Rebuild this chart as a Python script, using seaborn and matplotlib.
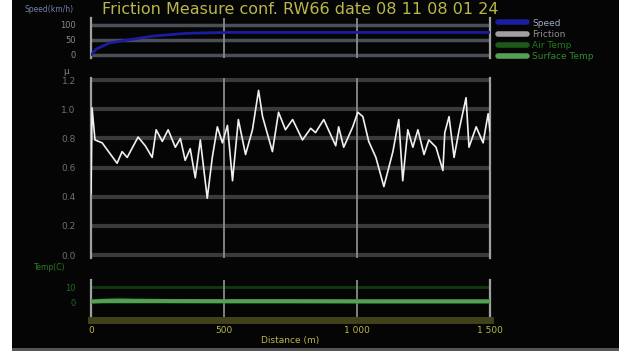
import numpy as np
import pandas as pd
import matplotlib
matplotlib.use("Agg")
import matplotlib.pyplot as plt
from matplotlib.lines import Line2D
from matplotlib.patches import Rectangle
import seaborn as sns

# ---------------- data ----------------
title_text = "Friction Measure conf. RW66 date 08 11 08 01 24"

fric_dist = [0, 4, 15, 42, 98, 117, 136, 177, 204, 230, 245, 268, 290, 317, 336, 354,
             373, 392, 411, 437, 456, 475, 494, 513, 532, 554, 581, 607, 630, 645, 682,
             705, 731, 758, 795, 826, 844, 875, 920, 931, 950, 984, 1003, 1022, 1044,
             1071, 1101, 1135, 1157, 1172, 1191, 1210, 1229, 1252, 1270, 1297, 1323,
             1330, 1346, 1365, 1384, 1410, 1421, 1448, 1474, 1493, 1500]
fric_mu = [0.42, 1.01, 0.79, 0.77, 0.63, 0.71, 0.67, 0.81, 0.75, 0.67, 0.86, 0.78, 0.86,
           0.74, 0.80, 0.65, 0.73, 0.53, 0.79, 0.39, 0.67, 0.88, 0.77, 0.89, 0.51, 0.93,
           0.69, 0.86, 1.13, 0.95, 0.71, 0.98, 0.86, 0.93, 0.79, 0.87, 0.84, 0.93, 0.75,
           0.88, 0.74, 0.88, 0.98, 0.95, 0.78, 0.67, 0.47, 0.71, 0.93, 0.51, 0.86, 0.74,
           0.86, 0.69, 0.79, 0.74, 0.58, 0.84, 0.95, 0.67, 0.86, 1.08, 0.74, 0.88, 0.77,
           0.97, 0.85]

speed_dist = [0, 20, 70, 160, 235, 360, 510, 700, 1000, 1250, 1500]
speed_kmh = [0, 20, 40, 53, 63, 72, 75, 75, 75, 75, 75]

surf_dist = [0, 50, 250, 500, 750, 1000, 1250, 1500]
surf_temp = [0.5, 0.8, 0.8, 0.7, 0.7, 0.6, 0.6, 0.6]
air_dist = [0, 60, 100, 160, 300, 600, 900, 1100, 1500]
air_temp = [0.5, 1.2, 1.6, 1.2, 0.8, 0.7, 0.7, 0.6, 0.6]

x_ticks = [0, 500, 1000, 1500]
x_ticklabels = ["0", "500", "1 000", "1 500"]
mu_ticks = [0.0, 0.2, 0.4, 0.6, 0.8, 1.0, 1.2]
mu_ticklabels = ["0.0", "0.2", "0.4", "0.6", "0.8", "1.0", "1.2"]
speed_ticks = [0, 50, 100]
temp_ticks = [0, 10]

legend_labels = ["Speed", "Friction", "Air Temp", "Surface Temp"]

# ---------------- style ----------------
sns.set_style("dark", {"axes.facecolor": "#050505", "figure.facecolor": "#050505"})
plt.rcParams['font.family'] = ['DejaVu Sans']

C_SPEED = "#1c1ca0"
C_FRIC = "#f0f0f0"
C_AIR = "#1a5a1a"
C_SURF = "#55a055"
C_YEL = "#b8b84a"
C_GRID = "#3a3a3a"
C_VGRID = "#8a8a8a"

W, H = 619, 351
fig = plt.figure(figsize=(W / 100, H / 100), dpi=100)
fig.patch.set_facecolor("#050505")
fig.patches.append(Rectangle((0, 0), 12 / W, 1, transform=fig.transFigure,
                             facecolor="white", edgecolor="none", zorder=0))
fig.patches.append(Rectangle((12 / W, 0), 1, 3 / H, transform=fig.transFigure,
                             facecolor="#555555", edgecolor="none", zorder=0))

left = 91 / W
width = 399 / W


def box(y0, y1):
    return [left, 1 - y1 / H, width, (y1 - y0) / H]


ax_s = fig.add_axes(box(18, 58))
ax_m = fig.add_axes(box(78, 258))
ax_t = fig.add_axes(box(280, 320))

df_f = pd.DataFrame({"d": fric_dist, "mu": fric_mu})
df_s = pd.DataFrame({"d": speed_dist, "v": speed_kmh})
df_st = pd.DataFrame({"d": surf_dist, "t": surf_temp})
df_at = pd.DataFrame({"d": air_dist, "t": air_temp})

for ax in (ax_s, ax_m, ax_t):
    ax.set_facecolor("#050505")
    ax.set_xlim(0, 1500)
    for xv in (500, 1000):
        ax.axvline(xv, color=C_VGRID, lw=1.3, zorder=1)
    for side in ("top", "bottom"):
        ax.spines[side].set_visible(False)
    for side in ("left", "right"):
        ax.spines[side].set_visible(True)
        ax.spines[side].set_color("#a0a0a0")
        ax.spines[side].set_linewidth(1.6)
    ax.grid(False)

# speed panel
for yv in speed_ticks:
    ax_s.axhline(yv, color="#4a4f55", lw=2.5, zorder=0.5)
sns.lineplot(data=df_s, x="d", y="v", ax=ax_s, color=C_SPEED, lw=2, zorder=3)
ax_s.set_ylim(-10, 123)
ax_s.set_yticks(speed_ticks)
ax_s.set_yticklabels([str(v) for v in speed_ticks])
ax_s.set_xticks([])
ax_s.set_xlabel("")
ax_s.set_ylabel("")
ax_s.tick_params(axis="y", colors="#8a8a8a", labelsize=6, length=3, width=0.8, pad=8)

# friction panel
for yv in mu_ticks:
    ax_m.axhline(yv, color=C_GRID, lw=3, zorder=0.5)
sns.lineplot(data=df_f, x="d", y="mu", ax=ax_m, color=C_FRIC, lw=1.2, zorder=3)
ax_m.set_ylim(-0.02, 1.215)
ax_m.set_yticks(mu_ticks)
ax_m.set_yticklabels(mu_ticklabels)
ax_m.set_yticks(np.arange(0.1, 1.2, 0.2), minor=True)
ax_m.set_xticks([])
ax_m.set_xlabel("")
ax_m.set_ylabel("")
ax_m.tick_params(axis="y", which="both", colors="#707070", labelsize=6.5, length=3,
                 width=0.8, pad=8)

# temperature panel
ax_t.axhline(10, color="#0e3a0e", lw=2, zorder=0.5)
ax_t.axhline(0, color="#0e3a0e", lw=2, zorder=0.5)
sns.lineplot(data=df_at, x="d", y="t", ax=ax_t, color=C_AIR, lw=3, zorder=3)
sns.lineplot(data=df_st, x="d", y="t", ax=ax_t, color=C_SURF, lw=2.8, zorder=4)
ax_t.set_ylim(-12, 15)
ax_t.set_yticks(temp_ticks)
ax_t.set_yticklabels([str(v) for v in temp_ticks])
ax_t.tick_params(axis="y", colors="#1f6a1f", labelsize=6, length=3, width=0.8, pad=8)
ax_t.spines["bottom"].set_visible(True)
ax_t.spines["bottom"].set_color("#42421a")
ax_t.spines["bottom"].set_linewidth(5)
ax_t.set_xticks(x_ticks)
ax_t.set_xticklabels(x_ticklabels)
ax_t.set_xticks([250, 750, 1250], minor=True)
ax_t.tick_params(axis="x", which="both", colors=C_YEL, labelsize=6.5, length=4,
                 width=1.5, direction="inout", pad=2)
ax_t.set_xlabel("Distance (m)", color=C_YEL, fontsize=6.5, labelpad=1)
ax_t.set_ylabel("")

# texts
fig.text(300 / W, 1 - 10 / H, title_text, color=C_YEL, fontsize=11.5, ha="center",
         va="center")
fig.text(49 / W, 1 - 9 / H, "Speed(km/h)", color="#7080a8", fontsize=5.5,
         ha="center", va="center")
fig.text(66 / W, 1 - 71 / H, "μ", color="#808080", fontsize=6.5, ha="center",
         va="center")
fig.text(50 / W, 1 - 268 / H, "Temp(C)", color="#2a7a2a", fontsize=5.5,
         ha="center", va="center")

# legend
handles = [Line2D([], [], color=C_SPEED, lw=4),
           Line2D([], [], color="#a0a0a0", lw=4),
           Line2D([], [], color=C_AIR, lw=4),
           Line2D([], [], color=C_SURF, lw=4)]
leg = fig.legend(handles, legend_labels, loc="upper left",
                 bbox_to_anchor=(494 / W, 1 - 15 / H), frameon=False,
                 fontsize=6.5, handlelength=3.3, handletextpad=0.5,
                 labelspacing=0.25, borderaxespad=0)
for txt, col in zip(leg.get_texts(), ["#a0a8c0", "#909090", "#1f7a1f", "#2f8a2f"]):
    txt.set_color(col)

fig.savefig("out.png", dpi=100, facecolor=fig.get_facecolor())
